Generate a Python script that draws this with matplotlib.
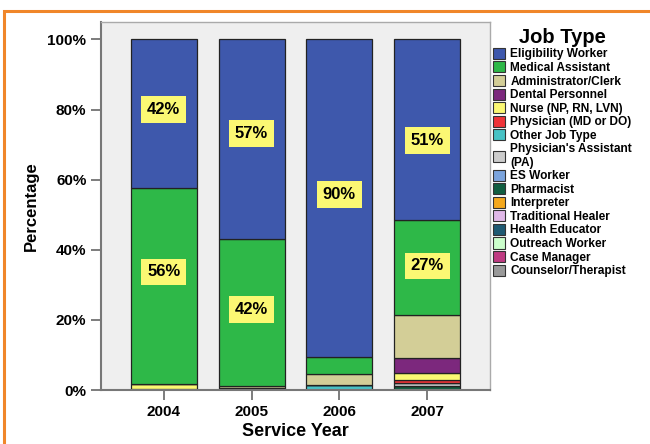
import numpy as np
import matplotlib.pyplot as plt
from matplotlib.patches import Rectangle, Patch

plt.rcParams['font.family'] = ['Liberation Sans', 'DejaVu Sans']
plt.rcParams['font.weight'] = 'bold'

years = ['2004', '2005', '2006', '2007']

job_types = ['Eligibility Worker', 'Medical Assistant', 'Administrator/Clerk',
             'Dental Personnel', 'Nurse (NP, RN, LVN)', 'Physician (MD or DO)',
             'Other Job Type', "Physician's Assistant\n(PA)", 'ES Worker',
             'Pharmacist', 'Interpreter', 'Traditional Healer',
             'Health Educator', 'Outreach Worker', 'Case Manager',
             'Counselor/Therapist']

job_colors = ['#3e58ac', '#2eb848', '#d3ce97', '#7c287d', '#fbf873', '#ef3338',
              '#48c2c5', '#cccccc', '#7ba4dd', '#115e41', '#f4a81d', '#e0b8e8',
              '#1f5a73', '#ccffcc', '#bf3b82', '#999999']

# percent per year, in the legend order
eligibility = [42.3, 56.9, 90.5, 51.5]
medical     = [56.0, 41.9, 5.0, 27.0]
admin       = [0.0, 0.6, 3.2, 12.5]
dental      = [0.0, 0.0, 0.0, 4.1]
nurse       = [1.3, 0.0, 0.0, 2.0]
physician   = [0.0, 0.0, 0.0, 1.0]
other       = [0.0, 0.0, 1.3, 0.0]
pa          = [0.0, 0.0, 0.0, 0.7]
es_worker   = [0.0, 0.0, 0.0, 0.0]
pharmacist  = [0.4, 0.0, 0.0, 1.2]
interpreter = [0.0, 0.0, 0.0, 0.0]
healer      = [0.0, 0.0, 0.0, 0.0]
health_ed   = [0.0, 0.6, 0.0, 0.0]
outreach    = [0.0, 0.0, 0.0, 0.0]
case_mgr    = [0.0, 0.0, 0.0, 0.0]
counselor   = [0.0, 0.0, 0.0, 0.0]

series = [eligibility, medical, admin, dental, nurse, physician, other, pa,
          es_worker, pharmacist, interpreter, healer, health_ed, outreach,
          case_mgr, counselor]

# yellow percent labels: (bar, text, height where it sits)
bar_labels = [(0, '42%', 80.0), (1, '57%', 73.1), (2, '90%', 55.7), (3, '51%', 71.1),
              (0, '56%', 33.7), (1, '42%', 22.9), (3, '27%', 35.4)]

fig = plt.figure(figsize=(6.5, 4.44), dpi=100)
ax = fig.add_axes([0.1554, 0.1216, 0.5985, 0.829])
ax.set_facecolor('#efefef')

x = np.arange(len(years))
bottom = np.zeros(len(years))
# stack from the bottom: last legend entry first
for i in range(len(series) - 1, -1, -1):
    vals = np.array(series[i])
    ax.bar(x, vals, 0.75, bottom=bottom, color=job_colors[i],
           edgecolor='#222222', linewidth=0.9, zorder=2)
    bottom = bottom + vals

for j, txt, yy in bar_labels:
    ax.text(x[j], yy, txt, ha='center', va='center', fontsize=12,
            fontweight='bold', zorder=3,
            bbox=dict(boxstyle='square,pad=0.35', fc='#fbf873', ec='none'))

ax.set_xlim(-0.716, 3.716)
ax.set_ylim(0, 105)
ax.set_yticks([0, 20, 40, 60, 80, 100])
ax.set_yticklabels(['0%', '20%', '40%', '60%', '80%', '100%'])
ax.set_xticks(x)
ax.set_xticklabels(years)
ax.tick_params(axis='both', labelsize=11, color='#666666', width=1.2, length=7)
for lab in ax.get_xticklabels() + ax.get_yticklabels():
    lab.set_fontweight('bold')
for side in ['left', 'bottom']:
    ax.spines[side].set_color('#777777')
    ax.spines[side].set_linewidth(1.5)
for side in ['top', 'right']:
    ax.spines[side].set_color('#aaaaaa')
    ax.spines[side].set_linewidth(1.0)

ax.set_xlabel('Service Year', fontsize=13, fontweight='bold', labelpad=3)
ax.set_ylabel('Percentage', fontsize=12, fontweight='bold', labelpad=6)

handles = [Patch(facecolor=c, edgecolor='#333333', linewidth=0.8) for c in job_colors]
leg = fig.legend(handles, job_types, loc='upper left',
                 bbox_to_anchor=(0.751, 0.948), frameon=False,
                 prop={'size': 8.6, 'weight': 'bold'}, title='Job Type',
                 title_fontproperties={'size': 14.5, 'weight': 'bold'},
                 handlelength=1.05, handleheight=1.05, handletextpad=0.4,
                 labelspacing=0.08, borderaxespad=0)

# orange frame round the chart, cut off at right and bottom
fig.patches.append(Rectangle((0.006, -0.1), 1.2, 1.075, transform=fig.transFigure,
                             fill=False, edgecolor='#f0862a', linewidth=2.2))

fig.savefig('out.png', dpi=100)
